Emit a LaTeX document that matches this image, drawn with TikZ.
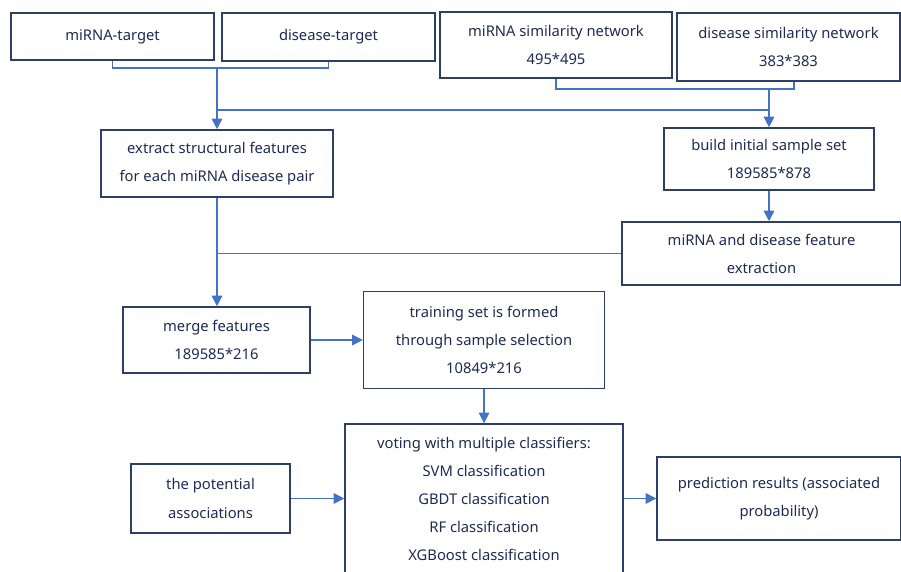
\documentclass[tikz,border=0pt]{standalone}
\usepackage{fontspec}
\setmainfont{Noto Sans}
\usepackage{xcolor}
\usepackage{tikz}
\usetikzlibrary{arrows.meta, positioning}

\definecolor{boxline}{HTML}{2E3F66}
\definecolor{boxtext}{HTML}{1F2A55}
\definecolor{link}{HTML}{4472C4}

\begin{document}
\begin{tikzpicture}[
        x=0.02cm, y=-0.02cm,
        box/.style={draw=boxline, line width=0.9pt, inner sep=0pt, text=boxtext,
            font=\fontsize{8.4}{16}\selectfont, align=center},
        conn/.style={draw=link, line width=0.85pt},
        arr/.style={conn, -{Triangle[length=6pt, width=6pt]}}
    ]
        \useasboundingbox (0,0) rectangle (901,571);

        % Inputs
        \node[box, minimum width=4.06cm, minimum height=0.94cm] (mt) at (112.5,36.5) {miRNA-target};
        \node[box, minimum width=4.26cm, minimum height=0.96cm] (dt) at (328.5,37) {disease-target};
        \node[box, minimum width=4.64cm, minimum height=1.32cm] (ms) at (556,45) {miRNA similarity network\\495*495};
        \node[box, minimum width=4.46cm, minimum height=1.36cm] (ds) at (788.5,47) {disease similarity network\\383*383};

        % Feature steps
        \node[box, minimum width=4.64cm, minimum height=1.34cm] (ex) at (217,163.5) {extract structural features\\for each miRNA disease pair};
        \node[box, minimum width=4.2cm, minimum height=1.24cm] (bs) at (769,159) {build initial sample set\\189585*878};
        \node[box, minimum width=5.58cm, minimum height=1.26cm] (fe) at (761.5,253.5) {miRNA and disease feature\\extraction};
        \node[box, minimum width=3.74cm, minimum height=1.32cm] (mf) at (216.5,340) {merge features\\189585*216};
        \node[box, minimum width=4.82cm, minimum height=1.94cm, right=1.04cm of mf] (ts) {training set is formed\\through sample selection\\10849*216};

        % Classification
        \node[box, minimum width=5.56cm, minimum height=3.0cm] (vt) at (484,499) {voting with multiple classifiers:\\SVM classification\\GBDT classification\\RF classification\\XGBoost classification};
        \node[box, minimum width=3.18cm, minimum height=1.38cm] (pa) at (210.5,498.5) {the potential\\associations};
        \node[box, minimum width=4.88cm, minimum height=1.66cm] (pr) at (779,498.5) {prediction results (associated\\probability)};

        % Junctions
        \coordinate (b1) at (217,68);
        \coordinate (b2) at (769,89);
        \coordinate (h1) at (217,110);
        \coordinate (h2) at (769,110);
        \coordinate (h3) at (217,253.5);

        % Connectors
        \draw[conn] (mt.south) |- (b1) -| (dt.south);
        \draw[conn] (ms.south) |- (b2) -| ([xshift=0.11cm]ds.south);
        \draw[arr] (b1) -- (ex.north);
        \draw[arr] (b2) -- (bs.north);
        \draw[conn] (h1) -- (h2);
        \draw[arr] (bs.south) -- (bs.south |- fe.north);
        \draw[arr] (ex.south) -- (ex.south |- mf.north);
        \draw[conn] (fe.west) -- (h3);
        \draw[arr] (mf) -- (ts);
        \draw[arr] (ts.south) -- (ts.south |- vt.north);
        \draw[arr] (pa) -- (vt.west |- pa.east);
        \draw[arr] (vt.east |- pr.west) -- (pr);
    \end{tikzpicture}
\end{document}
